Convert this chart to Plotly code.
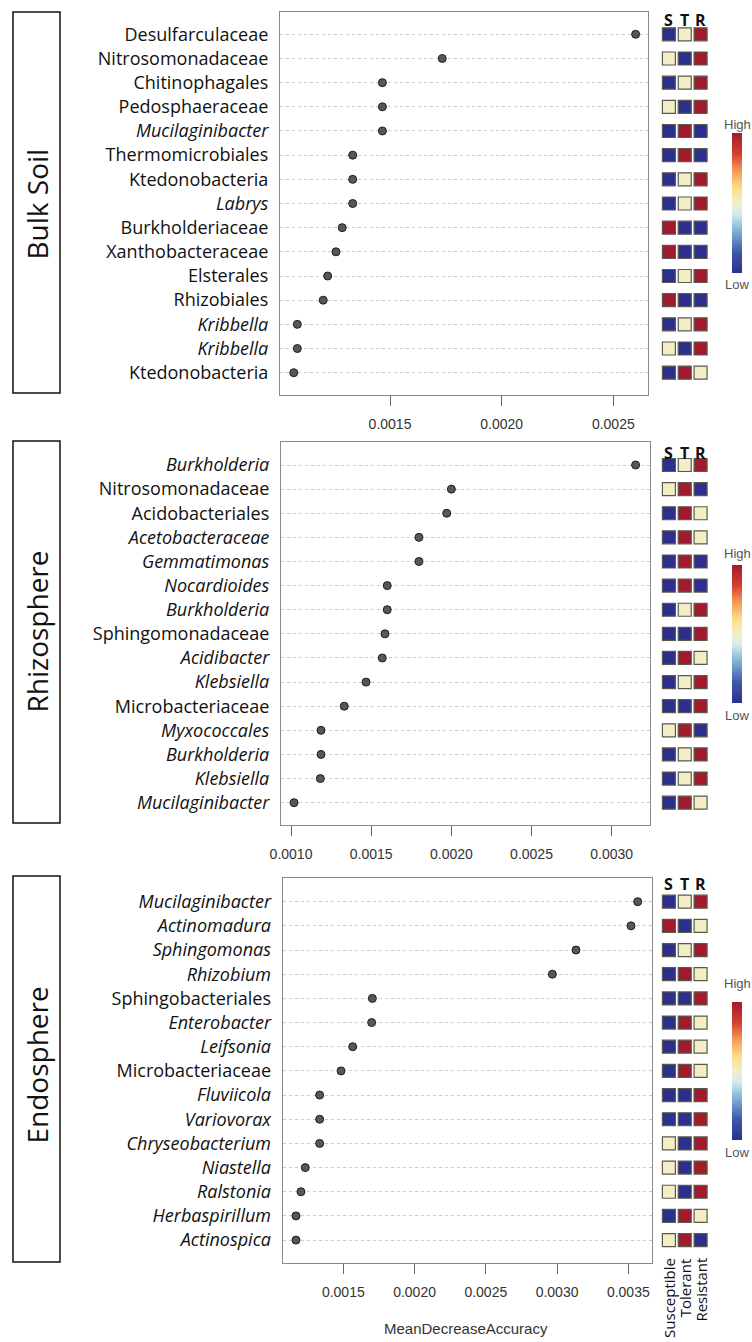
import plotly.graph_objects as go

W, H = 752, 1342

# ---------------- data ----------------
bulk_names = ["Desulfarculaceae", "Nitrosomonadaceae", "Chitinophagales", "Pedosphaeraceae",
              "Mucilaginibacter", "Thermomicrobiales", "Ktedonobacteria", "Labrys",
              "Burkholderiaceae", "Xanthobacteraceae", "Elsterales", "Rhizobiales",
              "Kribbella", "Kribbella", "Ktedonobacteria"]
bulk_italic = [0, 0, 0, 0, 1, 0, 0, 1, 0, 0, 0, 0, 1, 1, 0]
bulk_mda = [0.00260, 0.001734, 0.001466, 0.001466, 0.001466, 0.001333, 0.001333, 0.001333,
            0.001286, 0.001258, 0.001221, 0.001201, 0.001085, 0.001085, 0.001069]
# abundance level: 0 = low, 1 = mid, 2 = high
bulk_S = [0, 1, 0, 1, 0, 0, 0, 0, 2, 2, 0, 2, 0, 1, 0]
bulk_T = [1, 0, 1, 0, 2, 2, 1, 1, 0, 0, 1, 0, 1, 0, 2]
bulk_R = [2, 2, 2, 2, 0, 0, 2, 2, 0, 0, 2, 0, 2, 2, 1]

rhizo_names = ["Burkholderia", "Nitrosomonadaceae", "Acidobacteriales", "Acetobacteraceae",
               "Gemmatimonas", "Nocardioides", "Burkholderia", "Sphingomonadaceae",
               "Acidibacter", "Klebsiella", "Microbacteriaceae", "Myxococcales",
               "Burkholderia", "Klebsiella", "Mucilaginibacter"]
rhizo_italic = [1, 0, 0, 1, 1, 1, 1, 0, 1, 1, 0, 1, 1, 1, 1]
rhizo_mda = [0.003149, 0.002000, 0.001971, 0.001798, 0.001798, 0.001600, 0.001600, 0.001586,
             0.001569, 0.001468, 0.001332, 0.001187, 0.001187, 0.001183, 0.001019]
rhizo_S = [0, 1, 0, 0, 0, 0, 0, 0, 0, 0, 0, 1, 0, 0, 0]
rhizo_T = [1, 2, 2, 2, 2, 2, 1, 0, 2, 1, 0, 2, 1, 1, 2]
rhizo_R = [2, 0, 1, 1, 0, 0, 2, 2, 1, 2, 2, 0, 2, 2, 1]

endo_names = ["Mucilaginibacter", "Actinomadura", "Sphingomonas", "Rhizobium",
              "Sphingobacteriales", "Enterobacter", "Leifsonia", "Microbacteriaceae",
              "Fluviicola", "Variovorax", "Chryseobacterium", "Niastella", "Ralstonia",
              "Herbaspirillum", "Actinospica"]
endo_italic = [1, 1, 1, 1, 0, 1, 1, 0, 1, 1, 1, 1, 1, 1, 1]
endo_mda = [0.003566, 0.003519, 0.003133, 0.002967, 0.001704, 0.001699, 0.001566, 0.001484,
            0.001334, 0.001334, 0.001334, 0.001233, 0.001203, 0.001168, 0.001168]
endo_S = [0, 2, 0, 0, 0, 0, 0, 0, 0, 0, 1, 1, 1, 0, 1]
endo_T = [1, 0, 1, 2, 0, 2, 2, 2, 0, 0, 0, 0, 0, 2, 2]
endo_R = [2, 1, 2, 1, 2, 1, 1, 1, 2, 2, 2, 2, 2, 1, 0]

panel_titles = ["Bulk Soil", "Rhizosphere", "Endosphere"]
group_short = ["S", "T", "R"]
group_long = ["Susceptible", "Tolerant", "Resistant"]

# ---------------- layout geometry (pixels) ----------------
panels = [
    dict(names=bulk_names, ital=bulk_italic, mda=bulk_mda, S=bulk_S, T=bulk_T, R=bulk_R,
         px=(280, 648.3), py=(12, 395), xr=(0.0010074, 0.0026567), yr=(14.923, -0.923),
         tick0=0.0015, head_y=20, cb=(133, 273), high_y=124, low_y=285, box=(12, 393),
         title_y=204),
    dict(names=rhizo_names, ital=rhizo_italic, mda=rhizo_mda, S=rhizo_S, T=rhizo_T, R=rhizo_R,
         px=(281, 650), py=(442, 825), xr=(0.0009376, 0.0032388), yr=(14.925, -0.954),
         tick0=0.0010, head_y=453, cb=(565, 703), high_y=553, low_y=715, box=(441, 823),
         title_y=632),
    dict(names=endo_names, ital=endo_italic, mda=endo_mda, S=endo_S, T=endo_T, R=endo_R,
         px=(282.7, 651.7), py=(878, 1263.3), xr=(0.0010747, 0.0036642), yr=(14.96, -0.98),
         tick0=0.0015, head_y=884, cb=(1002, 1140), high_y=983, low_y=1152, box=(876, 1262),
         title_y=1065),
]

def fx(p):
    return p / W

def fy(p):
    return 1 - p / H

colorscale = [[0.0, "#2c2f8f"], [0.15, "#3d5aa8"], [0.3, "#7fb0d4"], [0.42, "#d4ebf2"],
              [0.5, "#f3eec6"], [0.6, "#fbe08c"], [0.72, "#f6a05a"], [0.85, "#d4402f"],
              [1.0, "#a3192d"]]

fig = go.Figure()
layout = dict(width=W, height=H, margin=dict(l=0, r=0, t=0, b=0, autoexpand=False),
              paper_bgcolor="white", plot_bgcolor="white", showlegend=False)
annotations = []
shapes = []

hx_dom = [fx(661), fx(708.5)]

for i, p in enumerate(panels):
    k = i + 1
    dx = "x" if k == 1 else f"x{k}"
    dy = "y" if k == 1 else f"y{k}"
    hk = k + 3
    hx = f"x{hk}"
    hy = f"y{hk}"
    idx = list(range(len(p["names"])))
    ticktext = [f"<i>{n}</i>" if it else n for n, it in zip(p["names"], p["ital"])]

    fig.add_trace(go.Scatter(
        x=p["mda"], y=idx, xaxis=dx, yaxis=dy, mode="markers",
        marker=dict(size=8, color="#575757", line=dict(color="#1e1e1e", width=1)),
        hoverinfo="skip"))

    # heat tiles
    for c, key in enumerate(["S", "T", "R"]):
        fig.add_trace(go.Scatter(
            x=[c + 1] * len(idx), y=idx, xaxis=hx, yaxis=hy, mode="markers",
            marker=dict(symbol="square", size=13, color=p[key],
                        coloraxis=("coloraxis" if k == 1 else f"coloraxis{k}"),
                        line=dict(color="#5a5a4a", width=1.2)),
            hoverinfo="skip"))

    dom_x = [fx(p["px"][0]), fx(p["px"][1])]
    dom_y = [fy(p["py"][1]), fy(p["py"][0])]
    xname = "xaxis" if k == 1 else f"xaxis{k}"
    yname = "yaxis" if k == 1 else f"yaxis{k}"
    layout[xname] = dict(domain=dom_x, anchor=dy, range=list(p["xr"]), automargin=False,
                         showline=True, mirror=True, linecolor="#8a8a8a", linewidth=1.2,
                         showgrid=False, zeroline=False, ticks="outside", ticklen=10,
                         tickcolor="#666", tickwidth=1.2, tick0=p["tick0"], dtick=0.0005,
                         tickformat=".4f", ticklabelstandoff=6,
                         tickfont=dict(family="Liberation Sans", size=14, color="#333"))
    layout[yname] = dict(domain=dom_y, anchor=dx, range=list(p["yr"]), automargin=False,
                         tickmode="array", tickvals=idx, ticktext=ticktext,
                         showgrid=True, gridcolor="#cccccc", griddash="dot", gridwidth=1,
                         zeroline=False, showline=True, mirror=True, linecolor="#8a8a8a",
                         linewidth=1.2, ticks="", ticklabelstandoff=7,
                         tickfont=dict(family="Open Sans", size=18, color="#111"))
    layout[f"xaxis{hk}"] = dict(domain=hx_dom, anchor=hy, range=[0.5, 3.5], visible=False)
    layout[f"yaxis{hk}"] = dict(domain=dom_y, anchor=hx, range=list(p["yr"]), visible=False)

    cname = "coloraxis" if k == 1 else f"coloraxis{k}"
    cb_c = (p["cb"][0] + p["cb"][1]) / 2
    layout[cname] = dict(colorscale=colorscale, cmin=0, cmax=2,
                         colorbar=dict(x=fx(731.5), xanchor="left", y=fy(cb_c), yanchor="middle",
                                       len=p["cb"][1] - p["cb"][0], lenmode="pixels",
                                       thickness=10, thicknessmode="pixels",
                                       showticklabels=False, ticks="", outlinewidth=0,
                                       xpad=0, ypad=0))

    # S T R headers
    for c, lab in enumerate(group_short):
        annotations.append(dict(text=f"<b>{lab}</b>", x=c + 1, xref=hx, y=fy(p["head_y"]),
                                yref="paper", showarrow=False, xanchor="center",
                                yanchor="middle",
                                font=dict(family="Open Sans", size=16, color="#111")))
    annotations.append(dict(text="High", x=fx(737), y=fy(p["high_y"]), xref="paper",
                            yref="paper", showarrow=False, xanchor="center", yanchor="middle",
                            font=dict(family="Liberation Sans", size=13, color="#555")))
    annotations.append(dict(text="Low", x=fx(737), y=fy(p["low_y"]), xref="paper",
                            yref="paper", showarrow=False, xanchor="center", yanchor="middle",
                            font=dict(family="Liberation Sans", size=13, color="#555")))

    # panel label box
    shapes.append(dict(type="rect", xref="paper", yref="paper", x0=fx(13), x1=fx(60),
                       y0=fy(p["box"][1]), y1=fy(p["box"][0]),
                       line=dict(color="#111", width=1.5)))
    annotations.append(dict(text=panel_titles[i], x=fx(36.5), y=fy(p["title_y"]),
                            xref="paper", yref="paper", showarrow=False, textangle=-90,
                            xanchor="center", yanchor="middle",
                            font=dict(family="Open Sans", size=28, color="#111")))

# bottom group labels
for c, lab in enumerate(group_long):
    annotations.append(dict(text=lab, x=c + 1, xref="x6", y=fy(1256), yref="paper",
                            showarrow=False, textangle=-90, xanchor="center", yanchor="top",
                            font=dict(family="Open Sans", size=15, color="#111")))

annotations.append(dict(text="MeanDecreaseAccuracy", x=fx(466), y=fy(1328), xref="paper",
                        yref="paper", showarrow=False, xanchor="center", yanchor="middle",
                        font=dict(family="Liberation Sans", size=15, color="#333")))

layout["annotations"] = annotations
layout["shapes"] = shapes
fig.update_layout(**layout)
fig.write_html("out.html")
